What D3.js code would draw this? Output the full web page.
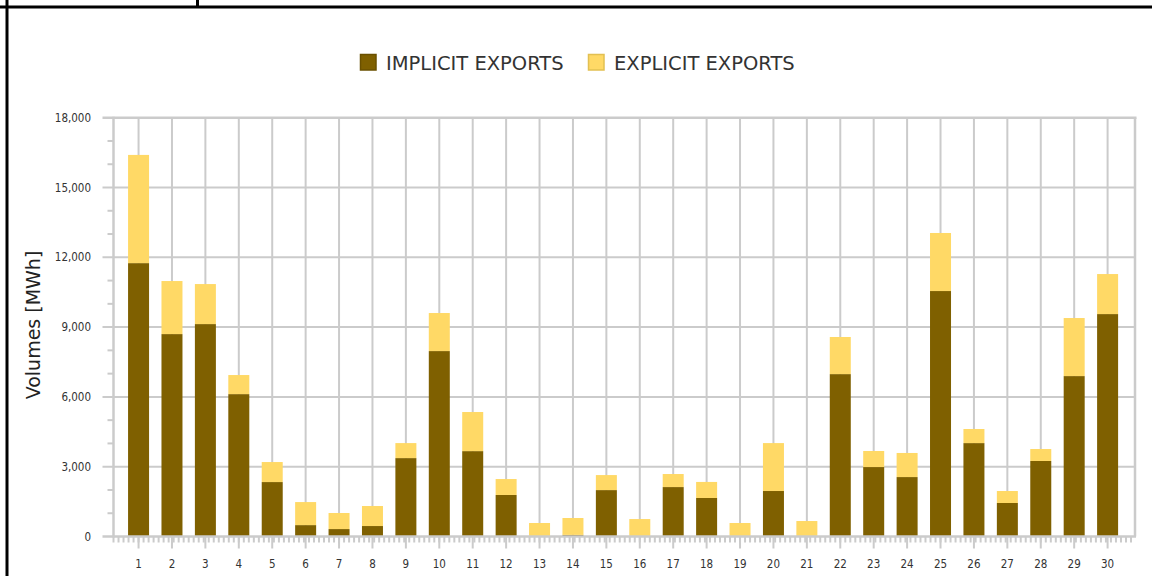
<!DOCTYPE html>
<html>
<head>
<meta charset="utf-8">
<script src="https://cdn.jsdelivr.net/npm/d3@7/dist/d3.min.js"></script>
<style>
  html, body { margin: 0; padding: 0; background: #fff; }
  svg { display: block; }
</style>
</head>
<body>
<svg id="chart" width="1152" height="576"></svg>
<script>
// ---- data ----
const days = ["1","2","3","4","5","6","7","8","9","10","11","12","13","14","15","16","17","18","19","20","21","22","23","24","25","26","27","28","29","30"];
const implicitExports = [11750, 8700, 9130, 6120, 2340, 490, 320, 450, 3370, 7970, 3670, 1785, 0, 70, 1995, 0, 2125, 1655, 0, 1955, 0, 6980, 2985, 2555, 10550, 4015, 1440, 3245, 6895, 9560];
const explicitExports = [4650, 2280, 1720, 820, 860, 990, 690, 860, 645, 1635, 1680, 685, 580, 725, 645, 750, 560, 690, 580, 2060, 665, 1595, 690, 1035, 2495, 605, 515, 515, 2495, 1720];
const seriesNames = ["IMPLICIT EXPORTS", "EXPLICIT EXPORTS"];
const yTicks = [0, 3000, 6000, 9000, 12000, 15000, 18000];
const yTitle = "Volumes [MWh]";

// ---- setup ----
const svg = d3.select("#chart");
const W = 1152, H = 576;
const colImplicit = "#7f6000", colExplicit = "#ffd966";
const gridCol = "#cbcbcb";
const plot = { left: 113.5, right: 1135, top: 117.7, bottom: 536.5 };

const x = d3.scaleLinear().domain([0.25, 30.82]).range([plot.left, plot.right]);
const y = d3.scaleLinear().domain([0, 18000]).range([plot.bottom, plot.top]);
const tickFont = "'DejaVu Sans Condensed', 'DejaVu Sans', sans-serif";

// outer black frame
svg.append("line").attr("x1", 0).attr("x2", W).attr("y1", 7).attr("y2", 7).attr("stroke", "#000").attr("stroke-width", 3);
svg.append("line").attr("x1", 7).attr("x2", 7).attr("y1", 0).attr("y2", H).attr("stroke", "#000").attr("stroke-width", 3);
svg.append("line").attr("x1", 197.5).attr("x2", 197.5).attr("y1", 0).attr("y2", 7).attr("stroke", "#000").attr("stroke-width", 3);

// horizontal gridlines + major y ticks
svg.append("g").selectAll("line").data(yTicks.filter(d => d > 0 && d < 18000)).join("line")
  .attr("x1", plot.left - 11).attr("x2", plot.right)
  .attr("y1", d => y(d)).attr("y2", d => y(d))
  .attr("stroke", gridCol).attr("stroke-width", 2);

// minor y ticks
const yMinor = d3.range(0, 18001, 1000).filter(d => d % 3000 !== 0);
svg.append("g").selectAll("line").data(yMinor).join("line")
  .attr("x1", plot.left - 6).attr("x2", plot.left)
  .attr("y1", d => y(d)).attr("y2", d => y(d))
  .attr("stroke", gridCol).attr("stroke-width", 2);

// vertical gridlines at categories (extending as major ticks below axis)
svg.append("g").selectAll("line").data(days).join("line")
  .attr("x1", (d, i) => x(i + 1)).attr("x2", (d, i) => x(i + 1))
  .attr("y1", plot.top).attr("y2", plot.bottom + 12)
  .attr("stroke", gridCol).attr("stroke-width", 2);

// minor x ticks
const xMinor = d3.range(0.25, 30.82, 0.15);
svg.append("g").selectAll("line").data(xMinor).join("line")
  .attr("x1", d => x(d)).attr("x2", d => x(d))
  .attr("y1", plot.bottom).attr("y2", plot.bottom + 6)
  .attr("stroke", gridCol).attr("stroke-width", 2);

// bars
const stack = days.map((d, i) => ({ day: d, idx: i, imp: implicitExports[i], exp: explicitExports[i] }));
const bw = 21;
svg.append("g").selectAll("rect").data(stack).join("rect")
  .attr("x", d => x(d.idx + 1) - bw / 2).attr("width", bw)
  .attr("y", d => y(d.imp)).attr("height", d => y(0) - y(d.imp))
  .attr("fill", colImplicit);
svg.append("g").selectAll("rect").data(stack).join("rect")
  .attr("x", d => x(d.idx + 1) - bw / 2).attr("width", bw)
  .attr("y", d => y(d.imp + d.exp)).attr("height", d => y(d.imp) - y(d.imp + d.exp))
  .attr("fill", colExplicit);

// plot border / axes
svg.append("line").attr("x1", plot.left).attr("x2", plot.left).attr("y1", plot.top - 1).attr("y2", plot.bottom + 1)
  .attr("stroke", gridCol).attr("stroke-width", 2.5);
svg.append("line").attr("x1", plot.left - 11).attr("x2", plot.right + 1).attr("y1", plot.bottom).attr("y2", plot.bottom)
  .attr("stroke", gridCol).attr("stroke-width", 2.5);
svg.append("line").attr("x1", plot.left - 11).attr("x2", plot.right + 1.5).attr("y1", plot.top).attr("y2", plot.top)
  .attr("stroke", gridCol).attr("stroke-width", 2.5);
svg.append("line").attr("x1", plot.right).attr("x2", plot.right).attr("y1", plot.top).attr("y2", plot.bottom)
  .attr("stroke", gridCol).attr("stroke-width", 2.5);

// y tick labels
svg.append("g").selectAll("text").data(yTicks).join("text")
  .attr("x", 91).attr("y", d => y(d)).attr("dy", "0.35em")
  .attr("text-anchor", "end").attr("font-family", tickFont).attr("font-size", 11.5)
  .attr("fill", "#333").text(d => d3.format(",")(d));

// x tick labels
svg.append("g").selectAll("text").data(days).join("text")
  .attr("x", (d, i) => x(i + 1)).attr("y", 567.5)
  .attr("text-anchor", "middle").attr("font-family", tickFont).attr("font-size", 11.5)
  .attr("fill", "#333").text(d => d);

// y title
svg.append("text").attr("transform", "translate(40,325) rotate(-90)")
  .attr("text-anchor", "middle").attr("font-family", "'DejaVu Sans', sans-serif").attr("font-size", 19)
  .attr("fill", "#222").text(yTitle);

// legend
const legend = [
  { name: seriesNames[0], fill: colImplicit, stroke: "#6a5000", x: 360.5, tx: 386 },
  { name: seriesNames[1], fill: colExplicit, stroke: "#e2c052", x: 588.5, tx: 614 }
];
const lg = svg.append("g");
lg.selectAll("rect").data(legend).join("rect")
  .attr("x", d => d.x).attr("y", 54.5).attr("width", 15.5).attr("height", 15.5)
  .attr("fill", d => d.fill).attr("stroke", d => d.stroke).attr("stroke-width", 1.5);
lg.selectAll("text").data(legend).join("text")
  .attr("x", d => d.tx).attr("y", 69.5)
  .attr("font-family", "'DejaVu Sans', sans-serif").attr("font-size", 19.5)
  .attr("fill", "#333").text(d => d.name);
</script>
</body>
</html>
